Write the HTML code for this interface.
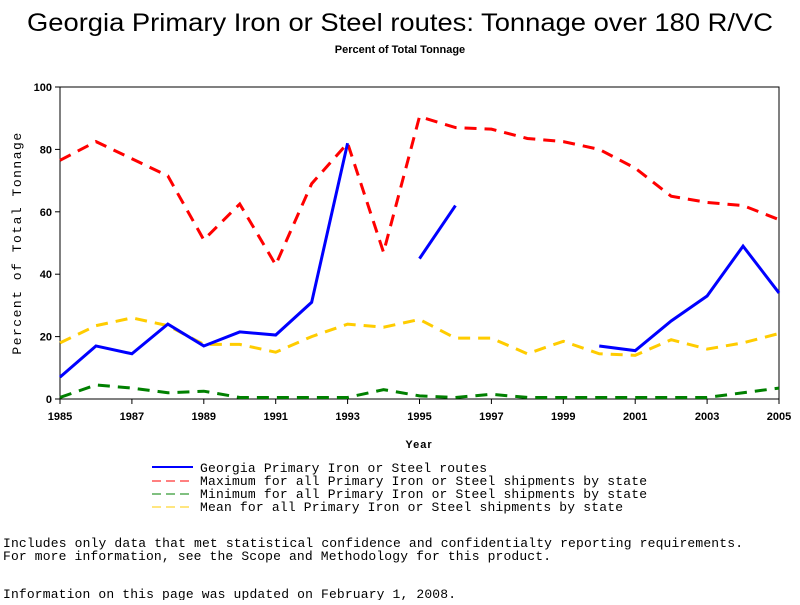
<!DOCTYPE html>
<html><head><meta charset="utf-8"><style>
body{margin:0;background:#fff;}
svg text{font-family:"Liberation Sans",sans-serif;}
.mono{font-family:"Liberation Mono",monospace;font-size:13px;}
</style></head><body>
<svg id="chart" width="800" height="600" xmlns="http://www.w3.org/2000/svg">
<text x="400" y="31" text-anchor="middle" font-size="25" textLength="746" lengthAdjust="spacingAndGlyphs">Georgia Primary Iron or Steel routes: Tonnage over 180 R/VC</text>
<text x="400" y="53" text-anchor="middle" font-size="11" font-weight="bold">Percent of Total Tonnage</text>
<rect x="60" y="87" width="719" height="312" fill="none" stroke="#000" stroke-width="1"/>
<g id="axes"></g>
<g id="series"></g>
<text x="419" y="448" text-anchor="middle" font-size="11" font-weight="bold" letter-spacing="1">Year</text>
<text transform="translate(21,243) rotate(-90)" text-anchor="middle" font-size="11" letter-spacing="1.5" class="mono">Percent of Total Tonnage</text>
<g>
<line x1="152" y1="467" x2="193" y2="467" stroke="#0000ff" stroke-width="2"/>
<text x="200" y="472" class="mono" textLength="287" lengthAdjust="spacing">Georgia Primary Iron or Steel routes</text>
<line x1="152" y1="481" x2="193" y2="481" stroke="#ff0000" stroke-dasharray="9,5"/>
<text x="200" y="485" class="mono" textLength="447" lengthAdjust="spacing">Maximum for all Primary Iron or Steel shipments by state</text>
<line x1="152" y1="494" x2="193" y2="494" stroke="#008000" stroke-dasharray="9,5"/>
<text x="200" y="498" class="mono" textLength="447" lengthAdjust="spacing">Minimum for all Primary Iron or Steel shipments by state</text>
<line x1="152" y1="507" x2="193" y2="507" stroke="#ffcc00" stroke-dasharray="9,5"/>
<text x="200" y="511" class="mono" textLength="423" lengthAdjust="spacing">Mean for all Primary Iron or Steel shipments by state</text>
</g>
<text x="3" y="547" class="mono" textLength="740" lengthAdjust="spacing">Includes only data that met statistical confidence and confidentialty reporting requirements.</text>
<text x="3" y="560" class="mono" textLength="548" lengthAdjust="spacing">For more information, see the Scope and Methodology for this product.</text>
<text x="3" y="598" class="mono" textLength="453" lengthAdjust="spacing">Information on this page was updated on February 1, 2008.</text>
</svg>
<script>
const years=[1985,1986,1987,1988,1989,1990,1991,1992,1993,1994,1995,1996,1997,1998,1999,2000,2001,2002,2003,2004,2005];
const georgia=[7,17,14.5,24,17,21.5,20.5,31,82,null,45,62,null,null,null,17,15.5,25,33,49,34];
const maxVals=[76.5,82.5,77,71.5,51,62.5,43,69,82,47,90.5,87,86.5,83.5,82.5,80,74,65,63,62,57.5];
const minVals=[0.5,4.5,3.5,2,2.5,0.5,0.5,0.5,0.5,3,1,0.5,1.5,0.5,0.5,0.5,0.5,0.5,0.5,2,3.5];
const meanVals=[18,23.5,26,23.5,17.5,17.5,15,20,24,23,25.5,19.5,19.5,14.5,18.5,14.5,14,19,16,18,21];
const xTicks=[1985,1987,1989,1991,1993,1995,1997,1999,2001,2003,2005];
const yTicks=[0,20,40,60,80,100];
const NS="http://www.w3.org/2000/svg";
const X=v=>60+(v-1985)/20*719;
const Y=v=>399-v/100*312;
const axes=document.getElementById('axes');
for(const t of xTicks){
 const l=document.createElementNS(NS,'line');l.setAttribute('x1',X(t));l.setAttribute('x2',X(t));l.setAttribute('y1',399);l.setAttribute('y2',404);l.setAttribute('stroke','#000');
 
 
 axes.appendChild(l);
 const tx=document.createElementNS(NS,'text');tx.setAttribute('x',X(t));tx.setAttribute('y',420);tx.setAttribute('text-anchor','middle');tx.setAttribute('font-size','11');tx.setAttribute('font-weight','bold');tx.textContent=t;
 
 
 axes.appendChild(tx);
}
for(const t of yTicks){
 const l=document.createElementNS(NS,'line');l.setAttribute('x1',55);l.setAttribute('x2',60);l.setAttribute('y1',Y(t));l.setAttribute('y2',Y(t));l.setAttribute('stroke','#000');
 
 
 axes.appendChild(l);
 const tx=document.createElementNS(NS,'text');tx.setAttribute('x',52);tx.setAttribute('y',Y(t)+4);tx.setAttribute('text-anchor','end');tx.setAttribute('font-size','11');tx.setAttribute('font-weight','bold');tx.textContent=t;
 
 
 axes.appendChild(tx);
}
const g=document.getElementById('series');
function draw(vals,color,dash,name){
 let segs=[],cur=[];
 vals.forEach((v,i)=>{if(v==null){if(cur.length)segs.push(cur);cur=[];}else cur.push(X(years[i])+','+Y(v));});
 if(cur.length)segs.push(cur);
 for(const s of segs){
  const p=document.createElementNS(NS,'polyline');
  p.setAttribute('points',s.join(' '));p.setAttribute('fill','none');p.setAttribute('stroke',color);p.setAttribute('stroke-width','3');
  if(dash)p.setAttribute('stroke-dasharray',dash);
  
  
  g.appendChild(p);
 }
}
draw(meanVals,'#ffcc00','12,8','series-mean');
draw(minVals,'#008000','12,8','series-min');
draw(maxVals,'#ff0000','12,8','series-max');
draw(georgia,'#0000ff',null,'series-georgia');
</script>
</body></html>
